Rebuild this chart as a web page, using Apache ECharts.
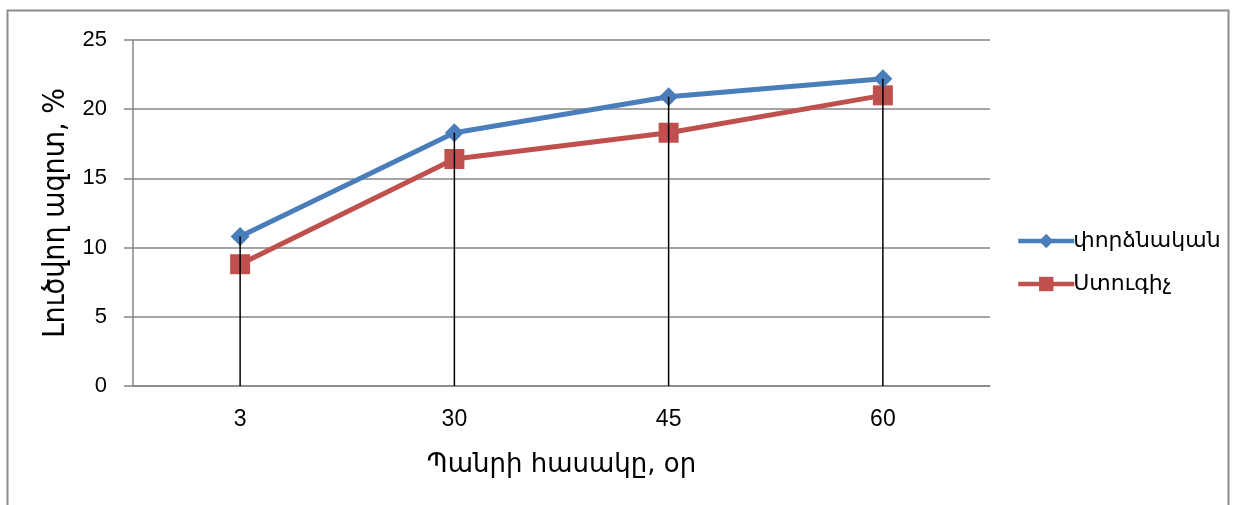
<!DOCTYPE html>
<html>
<head>
<meta charset="utf-8">
<script src="https://cdn.jsdelivr.net/npm/echarts@6/dist/echarts.min.js"></script>
<style>
  html, body { margin: 0; padding: 0; background: #fff; }
  #chart { width: 1234px; height: 505px; }
</style>
</head>
<body>
<div id="chart"></div>
<script>
// Cheese age (days) and soluble nitrogen (%)
const categories = ['3', '30', '45', '60'];
const experimental = [10.8, 18.3, 20.9, 22.2];   // փորձնական
const control = [8.8, 16.4, 18.3, 21.0];         // Ստուգիչ
const yTicks = [0, 5, 10, 15, 20, 25];

const seriesNames = ['փորձնական', 'Ստուգիչ'];
const BLUE = '#4a7ebb';
const RED = '#c0504d';
const GRID_GREY = '#868686';
const NUM_FONT = '"Liberation Sans", "DejaVu Sans", sans-serif';
const ARM_FONT = '"DejaVu Sans", sans-serif';
const ARM_FONT_NARROW = '"DejaVu Sans Condensed", "DejaVu Sans", sans-serif';

// Drop lines run from the highest point at each category down to the axis
const dropHeights = categories.map((c, i) => Math.max(experimental[i], control[i]));

const chart = echarts.init(document.getElementById('chart'));
chart.setOption({
  animation: false,
  backgroundColor: '#fff',
  textStyle: { fontFamily: NUM_FONT },
  grid: { left: 133, right: 244, top: 40, bottom: 119, containLabel: false },
  legend: {
    data: seriesNames.map(n => ({ name: n })),
    orient: 'vertical',
    left: 1011,
    top: 225,
    itemWidth: 56,
    itemHeight: 18,
    itemGap: 21,
    lineStyle: { width: 4.5 },
    textStyle: { fontSize: 22, lineHeight: 18, color: '#000', fontFamily: ARM_FONT, padding: [0, 0, 0, -6] }
  },
  xAxis: {
    type: 'category',
    data: categories,
    boundaryGap: true,
    name: 'Պանրի հասակը, օր',
    nameLocation: 'middle',
    nameGap: 66,
    nameTextStyle: { fontSize: 26, color: '#000', fontFamily: ARM_FONT },
    axisLine: { show: true, lineStyle: { color: GRID_GREY, width: 1.5 } },
    axisTick: { show: false },
    axisLabel: { fontSize: 23, color: '#000', margin: 22, fontFamily: NUM_FONT },
    splitLine: { show: false }
  },
  yAxis: {
    type: 'value',
    min: yTicks[0],
    max: yTicks[yTicks.length - 1],
    interval: yTicks[1] - yTicks[0],
    name: 'Լուծվող ազոտ, %',
    nameLocation: 'middle',
    nameGap: 62,
    nameRotate: 90,
    nameTextStyle: { fontSize: 30, color: '#000', fontFamily: ARM_FONT_NARROW },
    axisLine: { show: true, lineStyle: { color: GRID_GREY, width: 1.5 } },
    axisTick: { show: true, length: 9, inside: false, lineStyle: { color: GRID_GREY, width: 1.5 } },
    axisLabel: { fontSize: 22, color: '#000', margin: 26, fontFamily: NUM_FONT },
    splitLine: { show: true, lineStyle: { color: GRID_GREY, width: 1.5 } }
  },
  series: [
    {
      name: seriesNames[0],
      type: 'line',
      data: experimental,
      symbol: 'diamond',
      symbolSize: 19,
      lineStyle: { color: BLUE, width: 5 },
      itemStyle: { color: BLUE },
      z: 3
    },
    {
      name: seriesNames[1],
      type: 'line',
      data: control,
      symbol: 'rect',
      symbolSize: 20,
      lineStyle: { color: RED, width: 5 },
      itemStyle: { color: RED },
      z: 2
    },
    {
      name: 'drop',
      type: 'bar',
      data: dropHeights,
      barWidth: 1.5,
      itemStyle: { color: '#000' },
      silent: true,
      z: 5
    }
  ],
  graphic: [
    {
      type: 'polyline',
      shape: { points: [[7.5, 505], [7.5, 10.5], [1228.5, 10.5], [1228.5, 505]] },
      style: { stroke: '#8c8c8c', lineWidth: 2, fill: null },
      silent: true
    }
  ]
});
</script>
</body>
</html>
